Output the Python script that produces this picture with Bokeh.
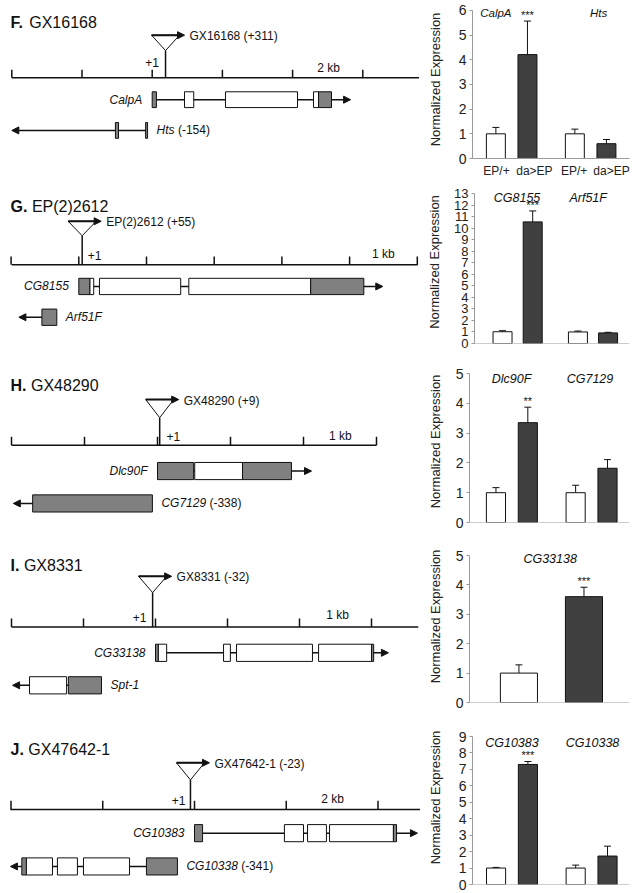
from bokeh.plotting import figure
from bokeh.models import (Range1d, ColumnDataSource, Arrow, NormalHead, TeeHead,
                          Whisker, FixedTicker, Span, Label, LabelSet)
from bokeh.layouts import column, row
from bokeh.core.properties import value
from bokeh.embed import file_html
from bokeh.resources import INLINE

FONT = "Liberation Sans"
FONTV = value(FONT)
INK = "#111111"
UTR_GRAY = "#808080"
DARK = "#404040"
AXIS_GRAY = "#9a9a9a"

# ======================= DATA =======================
# ---- Panel F ----
F_letter, F_name = "F.", "GX16168"
F_insert_label = "GX16168 (+311)"
F_insert_bp = 95
F_ticks_bp = [-1000, -500, 0, 500, 1000, 1500]
F_axis_bp = [-1000, 1900]
F_scale_text, F_scale_bp = "2 kb", 1256
F_gene1 = "CalpA"
F_gene1_exons = [(0, 30, "utr"), (230, 296, "cds"), (522, 1035, "cds"),
                 (1149, 1185, "cds"), (1185, 1277, "utr")]
F_gene1_tip = 1413
F_gene2, F_gene2_note = "Hts", "(-154)"
F_gene2_exons = [(-262, -240, "utr"), (-47, -33, "utr")]
F_gene2_tip = -1000
F_bar_x = [1, 2, 3.5, 4.5]
F_bar_geno = ["EP/+", "da>EP", "EP/+", "da>EP"]
F_geno_label_x = [1.02, 2.22, 3.48, 4.66]
F_bar_mean = [1.0, 4.21, 1.0, 0.60]
F_bar_err = [0.26, 1.36, 0.19, 0.17]
F_bar_sig = ["", "***", "", ""]
F_genes = ["CalpA", "Hts"]
F_genes_x = [1.0, 4.25]
F_ymax = 6

# ---- Panel G ----
G_letter, G_name = "G.", "EP(2)2612"
G_insert_label = "EP(2)2612 (+55)"
G_insert_bp = 10
G_ticks_bp = [-200, 0, 200, 400, 600, 800, 1000]
G_axis_bp = [-198, 1001]
G_scale_text, G_scale_bp = "1 kb", 900
G_gene1 = "CG8155"
G_gene1_exons = [(0, 33, "utr"), (33, 44, "cds"), (61, 301, "cds"),
                 (325, 685, "cds"), (685, 842, "utr")]
G_gene1_tip = 898
G_gene2, G_gene2_note = "Arf51F", ""
G_gene2_exons = [(-109, -65, "utr")]
G_gene2_tip = -177
G_bar_x = [1, 2, 3.5, 4.5]
G_bar_geno = ["EP/+", "da>EP", "EP/+", "da>EP"]
G_bar_mean = [1.02, 10.54, 1.0, 0.92]
G_bar_err = [0.09, 0.95, 0.08, 0.05]
G_bar_sig = ["", "***", "", ""]
G_genes = ["CG8155", "Arf51F"]
G_genes_x = [1.48, 3.84]
G_ymax = 13

# ---- Panel H ----
H_letter, H_name = "H.", "GX48290"
H_insert_label = "GX48290 (+9)"
H_insert_bp = 6
H_ticks_bp = [-400, -200, 0, 200, 400, 600]
H_axis_bp = [-400, 600]
H_scale_text, H_scale_bp = "1 kb", 501
H_gene1 = "Dlc90F"
H_gene1_exons = [(0, 99, "utr"), (102, 233, "cds"), (233, 367, "utr")]
H_gene1_tip = 422
H_gene2, H_gene2_note = "CG7129", "(-338)"
H_gene2_exons = [(-342, -14, "utr")]
H_gene2_tip = -395
H_bar_x = [1, 2, 3.5, 4.5]
H_bar_geno = ["EP/+", "da>EP", "EP/+", "da>EP"]
H_bar_mean = [1.0, 3.35, 1.0, 1.82]
H_bar_err = [0.17, 0.52, 0.25, 0.29]
H_bar_sig = ["", "**", "", ""]
H_genes = ["Dlc90F", "CG7129"]
H_genes_x = [1.49, 3.95]
H_ymax = 5

# ---- Panel I ----
I_letter, I_name = "I.", "GX8331"
I_insert_label = "GX8331 (-32)"
I_insert_bp = -8
I_ticks_bp = [-400, -200, 0, 200, 400, 600]
I_axis_bp = [-400, 730]
I_scale_text, I_scale_bp = "1 kb", 506
I_gene1 = "CG33138"
I_gene1_exons = [(0, 8, "utr"), (8, 31, "cds"), (189, 208, "cds"),
                 (225, 436, "cds"), (453, 600, "cds"), (600, 606, "utr")]
I_gene1_tip = 647
I_gene2, I_gene2_note = "Spt-1", ""
I_gene2_exons = [(-350, -247, "cds"), (-242, -150, "utr")]
I_gene2_tip = -397
I_bar_x = [1, 2]
I_bar_geno = ["EP/+", "da>EP"]
I_bar_mean = [1.0, 3.60]
I_bar_err = [0.28, 0.32]
I_bar_sig = ["", "***"]
I_genes = ["CG33138"]
I_genes_x = [1.48]
I_ymax = 5

# ---- Panel J ----
J_letter, J_name = "J.", "GX47642-1"
J_insert_label = "GX47642-1 (-23)"
J_insert_bp = -22
J_ticks_bp = [-1000, -500, 0, 500, 1000]
J_axis_bp = [-1003, 1232]
J_scale_text, J_scale_bp = "2 kb", 752
J_gene1 = "CG10383"
J_gene1_exons = [(0, 44, "utr"), (490, 594, "cds"), (616, 719, "cds"),
                 (736, 1084, "cds"), (1084, 1101, "utr")]
J_gene1_tip = 1215
J_gene2, J_gene2_note = "CG10338", "(-341)"
J_gene2_exons = [(-941, -916, "utr"), (-916, -774, "cds"), (-747, -638, "cds"),
                 (-605, -354, "cds"), (-262, -93, "utr")]
J_gene2_tip = -1003
J_bar_x = [1, 2, 3.5, 4.5]
J_bar_geno = ["EP/+", "da>EP", "EP/+", "da>EP"]
J_bar_mean = [1.0, 7.30, 1.0, 1.73]
J_bar_err = [0.04, 0.18, 0.18, 0.60]
J_bar_sig = ["", "***", "", ""]
J_genes = ["CG10383", "CG10338"]
J_genes_x = [1.5, 4.03]
J_ymax = 9

# ======================= LAYOUT / STYLE =======================
DIAG_W = 420
BAR_W = 218
DIAG_LAYOUT = {
    "F": dict(h=180, origin=151.7, tick_px=70.2, title_y=25, tri_top=39.5, vertex=57,
              axis_y=88, g1_y=113, g2_y=148, plus_y=71, plus_mode="above", scale_y=77, ins_y=41),
    "G": dict(h=180, origin=78.3, tick_px=67.7, title_y=29, tri_top=45, vertex=61,
              axis_y=93, g1_y=117, g2_y=151, plus_y=83, plus_mode="right", scale_y=81, ins_y=46),
    "H": dict(h=170, origin=157.0, tick_px=73.0, title_y=26, tri_top=41, vertex=60,
              axis_y=89, g1_y=116, g2_y=150, plus_y=80, plus_mode="right", scale_y=79, ins_y=42),
    "I": dict(h=180, origin=155.0, tick_px=72.0, title_y=37, tri_top=48, vertex=65,
              axis_y=101, g1_y=128, g2_y=162, plus_y=91, plus_mode="left", scale_y=88, ins_y=49),
    "J": dict(h=183, origin=194.0, tick_px=91.75, title_y=41, tri_top=55, vertex=73,
              axis_y=104, g1_y=129, g2_y=164, plus_y=95, plus_mode="left", scale_y=93, ins_y=56),
}
# 'top' = pixels between the canvas top and the axis maximum
BAR_LAYOUT = {
    "F": dict(left=52, top=10, bottom=21, xr=(0.26, 5.23), w=0.6, tick_fs="14px", std=13, gfrac=0.985, gfs="11.5px"),
    "G": dict(left=54, top=13, bottom=17, xr=(0.07, 5.21), w=0.63, tick_fs="13px", std=9, gfrac=0.967, gfs="12.5px"),
    "H": dict(left=49, top=13, bottom=8, xr=(0.17, 5.19), w=0.6, tick_fs="14px", std=10, gfrac=0.966, gfs="12.5px"),
    "I": dict(left=49, top=25, bottom=8, xr=(0.24, 2.70), w=0.57, tick_fs="14px", std=10, gfrac=0.973, gfs="12.5px"),
    "J": dict(left=52, top=26, bottom=9, xr=(0.26, 5.19), w=0.6, tick_fs="14px", std=13, gfrac=0.953, gfs="12.5px"),
}

AW = {' ': 278, '(': 333, ')': 333, '+': 584, '-': 333, '.': 278, '/': 278, '>': 584,
      'A': 667, 'B': 667, 'C': 722, 'D': 722, 'E': 667, 'F': 611, 'G': 778, 'H': 722, 'I': 278,
      'J': 500, 'K': 667, 'L': 556, 'M': 833, 'N': 722, 'O': 778, 'P': 667, 'R': 722, 'S': 667,
      'T': 611, 'X': 667, 'a': 556, 'c': 500, 'd': 556, 'e': 556, 'f': 278, 'i': 222, 'l': 222,
      'p': 556, 'r': 333, 's': 500, 't': 278}
BOLD_W = {'F': 611, 'G': 778, 'H': 722, 'I': 278, 'J': 556, '.': 278}


def text_w(s, size):
    return sum(AW.get(c, 556) for c in s) * size / 1000.0


def draw_gene(p, exons, tip, y, name, note, forward):
    starts = [e[0] for e in exons]
    ends = [e[1] for e in exons]
    fills = [UTR_GRAY if e[2] == "utr" else "white" for e in exons]
    lo, hi = min(starts), max(ends)
    p.segment(x0=[lo], y0=[y], x1=[hi], y1=[y], line_color=INK, line_width=1.5)
    base = hi if forward else lo
    p.add_layout(Arrow(end=NormalHead(size=7, fill_color=INK, line_color=INK, line_width=1),
                       x_start=base, y_start=y, x_end=tip, y_end=y,
                       line_color=INK, line_width=1.5))
    p.quad(left=starts, right=ends, top=[y - 9] * len(starts), bottom=[y + 9] * len(starts),
           fill_color=fills, line_color=INK, line_width=1)
    if forward:
        p.text(x=[lo], y=[y], text=[name], x_offset=-10, text_align="right",
               text_baseline="middle", text_font=FONTV, text_font_size="12px",
               text_font_style="italic", text_color=INK)
    else:
        p.text(x=[hi], y=[y], text=[name], x_offset=9, text_align="left",
               text_baseline="middle", text_font=FONTV, text_font_size="12px",
               text_font_style="italic", text_color=INK)
        if note:
            p.text(x=[hi], y=[y], text=[note], x_offset=9 + text_w(name + " ", 12),
                   text_align="left", text_baseline="middle", text_font=FONTV,
                   text_font_size="12px", text_color=INK)


def make_diagram(key, P):
    L = DIAG_LAYOUT[key]
    step = P["ticks"][1] - P["ticks"][0]
    ppb = L["tick_px"] / step
    x0 = (0 - L["origin"]) / ppb
    x1 = (DIAG_W - L["origin"]) / ppb
    p = figure(width=DIAG_W, height=L["h"], x_range=Range1d(x0, x1), y_range=Range1d(L["h"], 0),
               x_axis_location=None, y_axis_location=None, min_border=0,
               output_backend="svg", toolbar_location=None)
    p.xgrid.visible = False
    p.ygrid.visible = False
    p.outline_line_color = None
    p.background_fill_color = "white"
    p.border_fill_color = "white"

    # title
    p.add_layout(Label(x=10, y=L["title_y"], x_units="screen", y_units="data", text=P["letter"],
                       text_font=FONT, text_font_size="16px", text_font_style="bold",
                       text_baseline="middle", text_color=INK))
    lw = sum(BOLD_W.get(c, 600) for c in P["letter"]) * 16 / 1000.0
    p.add_layout(Label(x=10 + lw + 4.5, y=L["title_y"], x_units="screen", y_units="data",
                       text=P["name"], text_font=FONT, text_font_size="16px",
                       text_baseline="middle", text_color=INK))

    # genomic axis
    ay = L["axis_y"]
    p.segment(x0=[P["axis"][0]], y0=[ay], x1=[P["axis"][1]], y1=[ay], line_color=INK, line_width=1.5)
    n = len(P["ticks"])
    p.segment(x0=P["ticks"], y0=[ay] * n, x1=P["ticks"], y1=[ay - 9] * n, line_color=INK, line_width=1.5)

    # +1 label
    mode = L["plus_mode"]
    if mode == "above":
        p.text(x=[0], y=[L["plus_y"]], text=["+1"], text_align="center", text_baseline="middle",
               text_font=FONTV, text_font_size="12px", text_color=INK)
    elif mode == "right":
        p.text(x=[0], y=[L["plus_y"]], text=["+1"], x_offset=9, text_align="left",
               text_baseline="middle", text_font=FONTV, text_font_size="12px", text_color=INK)
    else:
        p.text(x=[0], y=[L["plus_y"]], text=["+1"], x_offset=-9, text_align="right",
               text_baseline="middle", text_font=FONTV, text_font_size="12px", text_color=INK)
    # scale label
    p.text(x=[P["scale_bp"]], y=[L["scale_y"]], text=[P["scale_text"]], text_align="center",
           text_baseline="middle", text_font=FONTV, text_font_size="12px", text_color=INK)

    # insertion
    ins = P["ins"]
    hw = 14 / ppb
    ext = 5 / ppb
    p.segment(x0=[ins], y0=[L["vertex"]], x1=[ins], y1=[ay], line_color=INK, line_width=1.5)
    p.patch(x=[ins - hw, ins + hw, ins], y=[L["tri_top"], L["tri_top"], L["vertex"]],
            fill_color="white", line_color=INK, line_width=1)
    p.add_layout(Arrow(end=NormalHead(size=7, fill_color=INK, line_color=INK, line_width=1),
                       x_start=ins - hw, y_start=L["tri_top"], x_end=ins + hw + ext,
                       y_end=L["tri_top"], line_color=INK, line_width=2))
    p.text(x=[ins + hw], y=[L["ins_y"]], text=[P["ins_label"]], x_offset=10, text_align="left",
           text_baseline="middle", text_font=FONTV, text_font_size="12px", text_color=INK)

    # genes
    draw_gene(p, P["g1_exons"], P["g1_tip"], L["g1_y"], P["g1"], "", True)
    draw_gene(p, P["g2_exons"], P["g2_tip"], L["g2_y"], P["g2"], P["g2_note"], False)
    return p


def make_bars(key, P):
    L = BAR_LAYOUT[key]
    h = DIAG_LAYOUT[key]["h"]
    show_x = key == "F"
    ymax = P["ymax"]
    frame_h = h - L["top"] - L["bottom"]
    y_end = ymax + L["top"] * ymax / frame_h   # frame reaches the canvas top
    p = figure(width=BAR_W, height=h, x_range=Range1d(*L["xr"]), y_range=Range1d(0, y_end),
               min_border_left=L["left"], min_border_right=9, min_border_top=0,
               min_border_bottom=L["bottom"], x_axis_location="below" if show_x else None,
               output_backend="svg", toolbar_location=None)
    p.xgrid.visible = False
    p.ygrid.visible = False
    p.outline_line_color = None

    yax = p.yaxis[0]
    yax.bounds = (0, ymax)
    yax.ticker = FixedTicker(ticks=list(range(0, ymax + 1)))
    yax.major_tick_out = 3
    yax.major_tick_in = 0
    yax.minor_tick_line_color = None
    yax.axis_line_color = AXIS_GRAY
    yax.major_tick_line_color = AXIS_GRAY
    yax.major_label_text_font = FONT
    yax.major_label_text_font_size = L["tick_fs"]
    yax.major_label_text_color = "#222222"
    yax.major_label_standoff = 3
    yax.axis_label = "Normalized Expression"
    yax.axis_label_text_font = FONT
    yax.axis_label_text_font_size = "13px"
    yax.axis_label_text_font_style = "normal"
    yax.axis_label_text_color = "#222222"
    yax.axis_label_standoff = L["std"]

    if show_x:
        xax = p.xaxis[0]
        xax.ticker = FixedTicker(ticks=P["geno_x"])
        xax.major_label_overrides = {x: g for x, g in zip(P["geno_x"], P["geno"])}
        xax.major_tick_line_color = None
        xax.minor_tick_line_color = None
        xax.major_tick_out = 0
        xax.major_tick_in = 0
        xax.axis_line_color = AXIS_GRAY
        xax.major_label_standoff = 5
        xax.major_label_text_font = FONT
        xax.major_label_text_font_size = "12px"
        xax.major_label_text_color = "#222222"
    else:
        p.add_layout(Span(location=0, dimension="width", line_color=AXIS_GRAY, line_width=1))

    hi = [m + e for m, e in zip(P["mean"], P["err"])]
    fills = ["white" if g == "EP/+" else DARK for g in P["geno"]]
    src = ColumnDataSource(dict(x=P["x"], mean=P["mean"], hi=hi, fill=fills, sig=P["sig"]))
    p.add_layout(Whisker(source=src, base="x", lower="mean", upper="hi",
                         upper_head=TeeHead(size=7, line_color=INK, line_width=1),
                         lower_head=None, line_color=INK, line_width=1))
    p.vbar(x="x", top="mean", bottom=0, width=L["w"], source=src, fill_color="fill",
           line_color=INK, line_width=1)
    p.add_layout(LabelSet(x="x", y="hi", text="sig", source=src, text_align="center",
                          text_baseline="bottom", text_font=FONTV, text_font_size="11px",
                          text_color=INK))
    gsrc = ColumnDataSource(dict(x=P["genes_x"], y=[ymax * L["gfrac"]] * len(P["genes"]),
                                 t=P["genes"]))
    p.add_layout(LabelSet(x="x", y="y", text="t", source=gsrc, text_align="center",
                          text_baseline="middle", text_font=FONTV, text_font_size=L["gfs"],
                          text_font_style="italic", text_color=INK))
    return p


def panel(letter, name, ins_label, ins, ticks, axis, scale_text, scale_bp,
          g1, g1_exons, g1_tip, g2, g2_note, g2_exons, g2_tip,
          bx, geno, geno_x, mean, err, sig, genes, genes_x, ymax):
    return dict(letter=letter, name=name, ins_label=ins_label, ins=ins, ticks=ticks, axis=axis,
                scale_text=scale_text, scale_bp=scale_bp, g1=g1, g1_exons=g1_exons, g1_tip=g1_tip,
                g2=g2, g2_note=g2_note, g2_exons=g2_exons, g2_tip=g2_tip, x=bx, geno=geno,
                geno_x=geno_x, mean=mean, err=err, sig=sig, genes=genes, genes_x=genes_x, ymax=ymax)


PANELS = {
    "F": panel(F_letter, F_name, F_insert_label, F_insert_bp, F_ticks_bp, F_axis_bp, F_scale_text,
               F_scale_bp, F_gene1, F_gene1_exons, F_gene1_tip, F_gene2, F_gene2_note,
               F_gene2_exons, F_gene2_tip, F_bar_x, F_bar_geno, F_geno_label_x, F_bar_mean,
               F_bar_err, F_bar_sig, F_genes, F_genes_x, F_ymax),
    "G": panel(G_letter, G_name, G_insert_label, G_insert_bp, G_ticks_bp, G_axis_bp, G_scale_text,
               G_scale_bp, G_gene1, G_gene1_exons, G_gene1_tip, G_gene2, G_gene2_note,
               G_gene2_exons, G_gene2_tip, G_bar_x, G_bar_geno, G_bar_x, G_bar_mean, G_bar_err,
               G_bar_sig, G_genes, G_genes_x, G_ymax),
    "H": panel(H_letter, H_name, H_insert_label, H_insert_bp, H_ticks_bp, H_axis_bp, H_scale_text,
               H_scale_bp, H_gene1, H_gene1_exons, H_gene1_tip, H_gene2, H_gene2_note,
               H_gene2_exons, H_gene2_tip, H_bar_x, H_bar_geno, H_bar_x, H_bar_mean, H_bar_err,
               H_bar_sig, H_genes, H_genes_x, H_ymax),
    "I": panel(I_letter, I_name, I_insert_label, I_insert_bp, I_ticks_bp, I_axis_bp, I_scale_text,
               I_scale_bp, I_gene1, I_gene1_exons, I_gene1_tip, I_gene2, I_gene2_note,
               I_gene2_exons, I_gene2_tip, I_bar_x, I_bar_geno, I_bar_x, I_bar_mean, I_bar_err,
               I_bar_sig, I_genes, I_genes_x, I_ymax),
    "J": panel(J_letter, J_name, J_insert_label, J_insert_bp, J_ticks_bp, J_axis_bp, J_scale_text,
               J_scale_bp, J_gene1, J_gene1_exons, J_gene1_tip, J_gene2, J_gene2_note,
               J_gene2_exons, J_gene2_tip, J_bar_x, J_bar_geno, J_bar_x, J_bar_mean, J_bar_err,
               J_bar_sig, J_genes, J_genes_x, J_ymax),
}

rows = []
for k in ["F", "G", "H", "I", "J"]:
    rows.append(row(make_diagram(k, PANELS[k]), make_bars(k, PANELS[k]), spacing=0))
layout = column(*rows, spacing=0)

open("out.html", "w").write(file_html(layout, INLINE))
